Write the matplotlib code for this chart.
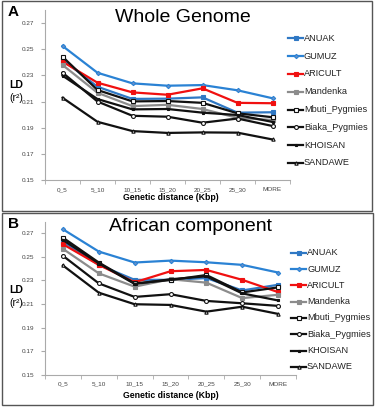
# LD decay by genetic distance, two panels (whole genome / African component)

import numpy as np
import matplotlib.pyplot as plt
from matplotlib.patches import Rectangle

plt.rcParams['font.family'] = ['Liberation Sans', 'DejaVu Sans']

categories = ['0_5', '5_10', '10_15', '15_20', '20_25', '25_30', 'MORE']
groups = ['ANUAK', 'GUMUZ', 'ARICULT', 'Mandenka', 'Mbuti_Pygmies',
          'Biaka_Pygmies', 'KHOISAN', 'SANDAWE']

# panel A - whole genome (r^2)
whole_anuak = [0.2420, 0.2213, 0.2120, 0.2122, 0.2132, 0.2015, 0.2018]
whole_gumuz = [0.2525, 0.2320, 0.2239, 0.2221, 0.2226, 0.2186, 0.2125]
whole_aricult = [0.2405, 0.2244, 0.2170, 0.2152, 0.2201, 0.2090, 0.2087]
whole_mandenka = [0.2380, 0.2167, 0.2065, 0.2075, 0.2043, 0.1975, 0.1959]
whole_mbuti = [0.2443, 0.2188, 0.2101, 0.2104, 0.2090, 0.2010, 0.1980]
whole_biaka = [0.2321, 0.2100, 0.1991, 0.1984, 0.1938, 0.1970, 0.1913]
whole_khoisan = [0.2298, 0.2119, 0.2040, 0.2043, 0.2015, 0.1997, 0.1944]
whole_sandawe = [0.2129, 0.1945, 0.1874, 0.1860, 0.1864, 0.1862, 0.1810]

# panel B - African component (r^2)
afr_anuak = [0.2629, 0.2432, 0.2305, 0.2305, 0.2320, 0.2215, 0.2263]
afr_gumuz = [0.2734, 0.2545, 0.2452, 0.2468, 0.2454, 0.2432, 0.2367]
afr_aricult = [0.2607, 0.2432, 0.2284, 0.2378, 0.2389, 0.2305, 0.2201]
afr_mandenka = [0.2568, 0.2360, 0.2247, 0.2310, 0.2281, 0.2150, 0.2178]
afr_mbuti = [0.2663, 0.2452, 0.2275, 0.2303, 0.2346, 0.2198, 0.2241]
afr_biaka = [0.2509, 0.2275, 0.2160, 0.2183, 0.2126, 0.2106, 0.2084]
afr_khoisan = [0.2643, 0.2445, 0.2270, 0.2310, 0.2335, 0.2190, 0.2130]
afr_sandawe = [0.2427, 0.2196, 0.2098, 0.2092, 0.2035, 0.2077, 0.2016]

yticks = [0.15, 0.17, 0.19, 0.21, 0.23, 0.25, 0.27]

# colour, marker, marker face, marker size
styles = {
    'ANUAK': ('#2F78C4', 's', '#2F78C4', 2.6),
    'GUMUZ': ('#2A82D4', 'D', '#6A8FC8', 2.2),
    'ARICULT': ('#F01010', 's', '#F01010', 3.2),
    'Mandenka': ('#8C8C8C', 's', '#8C8C8C', 2.8),
    'Mbuti_Pygmies': ('#111111', 's', 'white', 3.2),
    'Biaka_Pygmies': ('#111111', 'o', 'white', 2.8),
    'KHOISAN': ('#111111', 's', '#111111', 2.0),
    'SANDAWE': ('#111111', '^', 'white', 2.4),
}

W, H = 375, 407
fig = plt.figure(figsize=(W / 100, H / 100), dpi=100)


def fx(px):
    return px / W


def fy(py):
    return 1 - py / H


def panel(rect, box, letter, title, title_xy, series, leg_y0, leg_dy, leg_x, lab_y, xlab_y):
    # frame around panel
    x0, y0, x1, y1 = box
    fig.patches.append(Rectangle((fx(x0), fy(y1)), fx(x1 - x0), (y1 - y0) / H,
                                 transform=fig.transFigure, fill=False,
                                 edgecolor='#555555', linewidth=1.0))
    fig.text(fx(x0 + 6), fy(y0 + 11), letter, fontsize=11, fontweight='bold',
             va='center', ha='left')
    fig.text(fx(title_xy[0]), fy(title_xy[1]), title, fontsize=14,
             va='center', ha='center')

    l, t, r, b = rect
    ax = fig.add_axes([fx(l), fy(b), fx(r - l), (b - t) / H])
    x = np.arange(len(categories))
    for name, vals in zip(groups, series):
        c, m, mf, ms = styles[name]
        ax.plot(x, vals, color=c, lw=1.6, marker=m, markersize=ms,
                markerfacecolor=mf, markeredgecolor=c, markeredgewidth=0.8,
                label=name)
    ax.set_xlim(-0.5, len(categories) - 0.5)
    ax.set_ylim(0.15, 0.28)
    ax.set_yticks(yticks)
    ax.set_yticklabels(['%.2f' % v for v in yticks])
    ax.set_xticks(x)
    ax.set_xticklabels(categories)
    ax.set_xticks(np.arange(-0.5, len(categories)), minor=True)
    ax.tick_params(axis='x', which='major', length=0, labelsize=4.6,
                   labelcolor='#444444', pad=5)
    ax.tick_params(axis='x', which='minor', length=3, color='#AAAAAA')
    ax.tick_params(axis='y', length=3, color='#AAAAAA', labelsize=4.6,
                   labelcolor='#444444', pad=5)
    for s in ['top', 'right']:
        ax.spines[s].set_visible(False)
    for s in ['left', 'bottom']:
        ax.spines[s].set_color('#AAAAAA')
        ax.spines[s].set_linewidth(0.8)

    fig.text(fx(16), fy(lab_y), 'LD', fontsize=7.5, fontweight='bold',
             ha='center', va='center')
    fig.text(fx(16), fy(lab_y + 13), '(r²)', fontsize=7.5,
             ha='center', va='center')
    fig.text(fx(171), fy(xlab_y), 'Genetic distance (Kbp)', fontsize=6.3,
             fontweight='bold', ha='center', va='center')

    # legend drawn by hand in figure coords
    for i, name in enumerate(groups):
        yy = fy(leg_y0 + i * leg_dy)
        c, m, mf, ms = styles[name]
        fig.add_artist(plt.Line2D([fx(leg_x), fx(leg_x + 15)], [yy, yy],
                                  transform=fig.transFigure, color=c, lw=1.6))
        fig.add_artist(plt.Line2D([fx(leg_x + 7.5)], [yy], transform=fig.transFigure,
                                  color=c, marker=m, markersize=ms,
                                  markerfacecolor=mf, markeredgecolor=c,
                                  markeredgewidth=0.8))
        fig.text(fx(leg_x + 16), yy, name, fontsize=6.6, va='center', ha='left',
                 color='#222222')


panel((45, 10, 290, 180), (2, 1, 372, 211), 'A', 'Whole Genome', (183, 17),
      [whole_anuak, whole_gumuz, whole_aricult, whole_mandenka, whole_mbuti,
       whole_biaka, whole_khoisan, whole_sandawe],
      38.3, 17.8, 288, 85, 198)

panel((45, 221.5, 296, 374.7), (2, 213, 373, 405), 'B', 'African component', (190, 226),
      [afr_anuak, afr_gumuz, afr_aricult, afr_mandenka, afr_mbuti,
       afr_biaka, afr_khoisan, afr_sandawe],
      252.7, 16.3, 291, 290, 395)

plt.savefig('out.png', dpi=100)
